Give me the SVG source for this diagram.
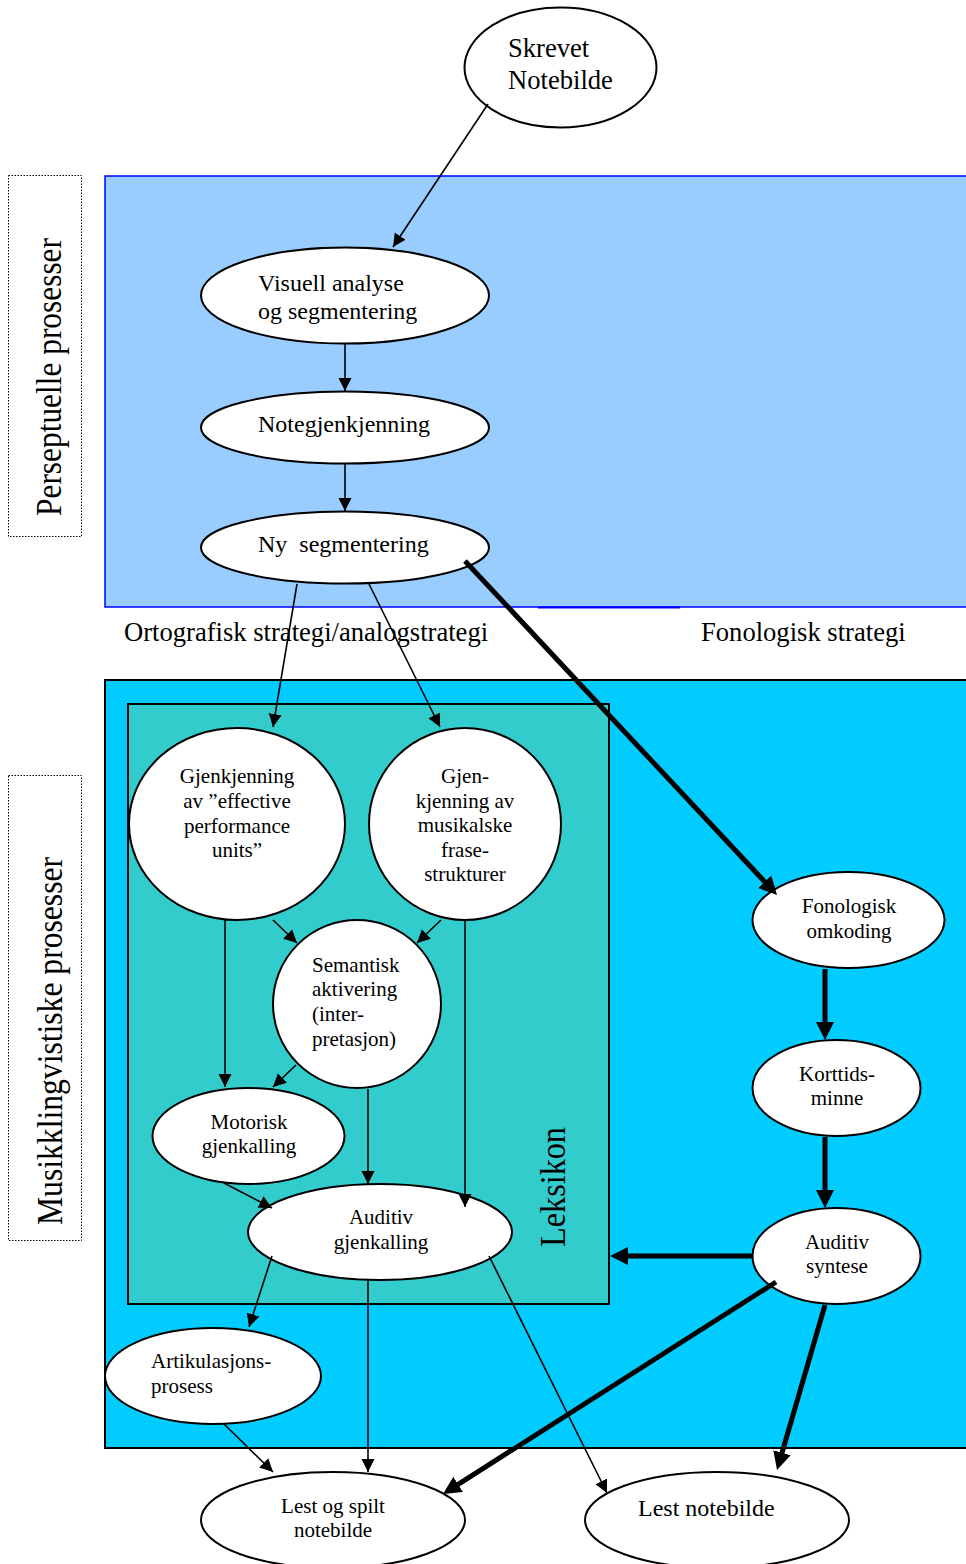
<svg xmlns="http://www.w3.org/2000/svg" width="966" height="1564" viewBox="0 0 966 1564">
<style>
.n{fill:#fff;stroke:#000;stroke-width:2}
.t{font-family:"Liberation Serif","Times New Roman",serif;fill:#000}
.s21{font-size:21px}
.s24{font-size:24px}
.s26{font-size:26.6px}
.c{text-anchor:middle}
.th{stroke:#000;stroke-width:1.6;fill:none;marker-end:url(#a)}
.tk{stroke:#000;stroke-width:5;fill:none;marker-end:url(#b)}
</style>
<defs>
<marker id="a" markerUnits="userSpaceOnUse" markerWidth="14" markerHeight="14" refX="13" refY="6.5" orient="auto"><path d="M0,0 L13,6.5 L0,13 z" fill="#000"/></marker>
<marker id="b" markerUnits="userSpaceOnUse" markerWidth="20" markerHeight="20" refX="13" refY="9" orient="auto"><path d="M0,0 L18,9 L0,18 z" fill="#000"/></marker>
</defs>
<rect width="966" height="1564" fill="#fff"/>
<g id="regions">
<rect x="105" y="176" width="880" height="431" fill="#99CCFF" stroke="#0000FF" stroke-width="1.5"/>
<line x1="538" y1="607.5" x2="680" y2="607.5" stroke="#0000FF" stroke-width="2"/>
<rect x="105" y="680" width="880" height="768" fill="#00CCFF" stroke="#000" stroke-width="2"/>
<rect x="128" y="704" width="481" height="600" fill="#33CCCC" stroke="#000" stroke-width="2"/>
<rect x="8.5" y="175.5" width="73" height="361" fill="none" stroke="#000" stroke-width="1" stroke-dasharray="1.5 1.5"/>
<rect x="8.5" y="775.5" width="73" height="465" fill="none" stroke="#000" stroke-width="1" stroke-dasharray="1.5 1.5"/>
</g>
<g id="labels">
<text class="t" font-size="35" text-anchor="middle" x="61" y="377" textLength="278" lengthAdjust="spacingAndGlyphs" transform="rotate(-90 61 377)">Perseptuelle prosesser</text>
<text class="t" font-size="35" text-anchor="middle" x="62" y="1041" textLength="368" lengthAdjust="spacingAndGlyphs" transform="rotate(-90 62 1041)">Musikklingvistiske prosesser</text>
<text class="t" font-size="35" text-anchor="middle" x="565" y="1187" textLength="120" lengthAdjust="spacingAndGlyphs" transform="rotate(-90 565 1187)">Leksikon</text>
<text class="t s26" x="124" y="641">Ortografisk strategi/analogstrategi</text>
<text class="t s26" x="701" y="641">Fonologisk strategi</text>
</g>
<g id="skrevet">
<ellipse class="n" cx="560.5" cy="67.5" rx="96" ry="60"/>
<text class="t s26" x="508" y="57">Skrevet</text>
<text class="t s26" x="508" y="89">Notebilde</text>
</g>
<g id="visuell">
<ellipse class="n" cx="345" cy="295.5" rx="144" ry="48"/>
<text class="t s24" x="258" y="291">Visuell analyse</text>
<text class="t s24" x="258" y="319">og segmentering</text>
</g>
<g id="notegjenkjenning">
<ellipse class="n" cx="345" cy="427.5" rx="144" ry="36"/>
<text class="t s24" x="258" y="432">Notegjenkjenning</text>
</g>
<g id="ny">
<ellipse class="n" cx="345" cy="547.5" rx="144" ry="36"/>
<text class="t s24" x="258" y="552" xml:space="preserve">Ny  segmentering</text>
</g>
<g id="gjenkjenning">
<ellipse class="n" cx="237" cy="824" rx="108" ry="96"/>
<text class="t s21 c" x="237" y="783">Gjenkjenning</text>
<text class="t s21 c" x="237" y="808">av ”effective</text>
<text class="t s21 c" x="237" y="833">performance</text>
<text class="t s21 c" x="237" y="857">units”</text>
</g>
<g id="frasestrukturer">
<ellipse class="n" cx="465" cy="824" rx="96" ry="96"/>
<text class="t s21 c" x="465" y="783">Gjen-</text>
<text class="t s21 c" x="465" y="808">kjenning av</text>
<text class="t s21 c" x="465" y="832">musikalske</text>
<text class="t s21 c" x="465" y="857">frase-</text>
<text class="t s21 c" x="465" y="881">strukturer</text>
</g>
<g id="semantisk">
<ellipse class="n" cx="357" cy="1004" rx="84" ry="84"/>
<text class="t s21" x="312" y="972">Semantisk</text>
<text class="t s21" x="312" y="996">aktivering</text>
<text class="t s21" x="312" y="1021">(inter-</text>
<text class="t s21" x="312" y="1046">pretasjon)</text>
</g>
<g id="motorisk">
<ellipse class="n" cx="248.5" cy="1136" rx="96" ry="48"/>
<text class="t s21 c" x="249" y="1129">Motorisk</text>
<text class="t s21 c" x="249" y="1153">gjenkalling</text>
</g>
<g id="auditiv-gjenkalling">
<ellipse class="n" cx="380" cy="1232" rx="132" ry="48"/>
<text class="t s21 c" x="381" y="1224">Auditiv</text>
<text class="t s21 c" x="381" y="1249">gjenkalling</text>
</g>
<g id="fonologisk">
<ellipse class="n" cx="848.5" cy="920" rx="96" ry="48"/>
<text class="t s21 c" x="849" y="913">Fonologisk</text>
<text class="t s21 c" x="849" y="938">omkoding</text>
</g>
<g id="korttid">
<ellipse class="n" cx="836.5" cy="1088" rx="84" ry="48"/>
<text class="t s21 c" x="837" y="1081">Korttids-</text>
<text class="t s21 c" x="837" y="1105">minne</text>
</g>
<g id="auditiv-syntese">
<ellipse class="n" cx="836.5" cy="1256" rx="84" ry="48"/>
<text class="t s21 c" x="837" y="1249">Auditiv</text>
<text class="t s21 c" x="837" y="1273">syntese</text>
</g>
<g id="artikulasjon">
<ellipse class="n" cx="213" cy="1376" rx="108" ry="48"/>
<text class="t s21" x="151" y="1368">Artikulasjons-</text>
<text class="t s21" x="151" y="1393">prosess</text>
</g>
<g id="lest-spilt">
<ellipse class="n" cx="333" cy="1520" rx="132" ry="48"/>
<text class="t s21 c" x="333" y="1513">Lest og spilt</text>
<text class="t s21 c" x="333" y="1537">notebilde</text>
</g>
<g id="lest-notebilde">
<ellipse class="n" cx="717" cy="1520" rx="132" ry="48"/>
<text class="t s24" x="638" y="1516">Lest notebilde</text>
</g>
<g id="connectors">
<line class="th" x1="488" y1="104" x2="393" y2="247"/>
<line class="th" x1="345" y1="344" x2="345" y2="391"/>
<line class="th" x1="345" y1="464" x2="345" y2="511"/>
<line class="th" x1="297" y1="584" x2="273" y2="727"/>
<line class="th" x1="369" y1="584" x2="440" y2="727"/>
<line class="th" x1="225" y1="920" x2="225" y2="1087"/>
<line class="th" x1="273" y1="920" x2="297" y2="943"/>
<line class="th" x1="441" y1="920" x2="417" y2="943"/>
<line class="th" x1="465" y1="920" x2="465" y2="1207"/>
<line class="th" x1="296" y1="1065" x2="273" y2="1087"/>
<line class="th" x1="368" y1="1089" x2="368" y2="1184"/>
<line class="th" x1="224" y1="1183" x2="272" y2="1208"/>
<line class="th" x1="272" y1="1256" x2="249" y2="1327"/>
<line class="th" x1="368" y1="1281" x2="368" y2="1472"/>
<line class="th" x1="489" y1="1256" x2="607" y2="1493"/>
<line class="th" x1="224" y1="1424" x2="273" y2="1472"/>
<line class="tk" x1="465" y1="561" x2="773.6" y2="891.3"/>
<line class="tk" x1="825" y1="969" x2="825" y2="1035"/>
<line class="tk" x1="825" y1="1137" x2="825" y2="1203"/>
<line class="tk" x1="752" y1="1256" x2="615" y2="1256"/>
<line class="tk" x1="776" y1="1282" x2="447.2" y2="1491.3"/>
<line class="tk" x1="825" y1="1305" x2="778.4" y2="1465.2"/>
</g>
</svg>
